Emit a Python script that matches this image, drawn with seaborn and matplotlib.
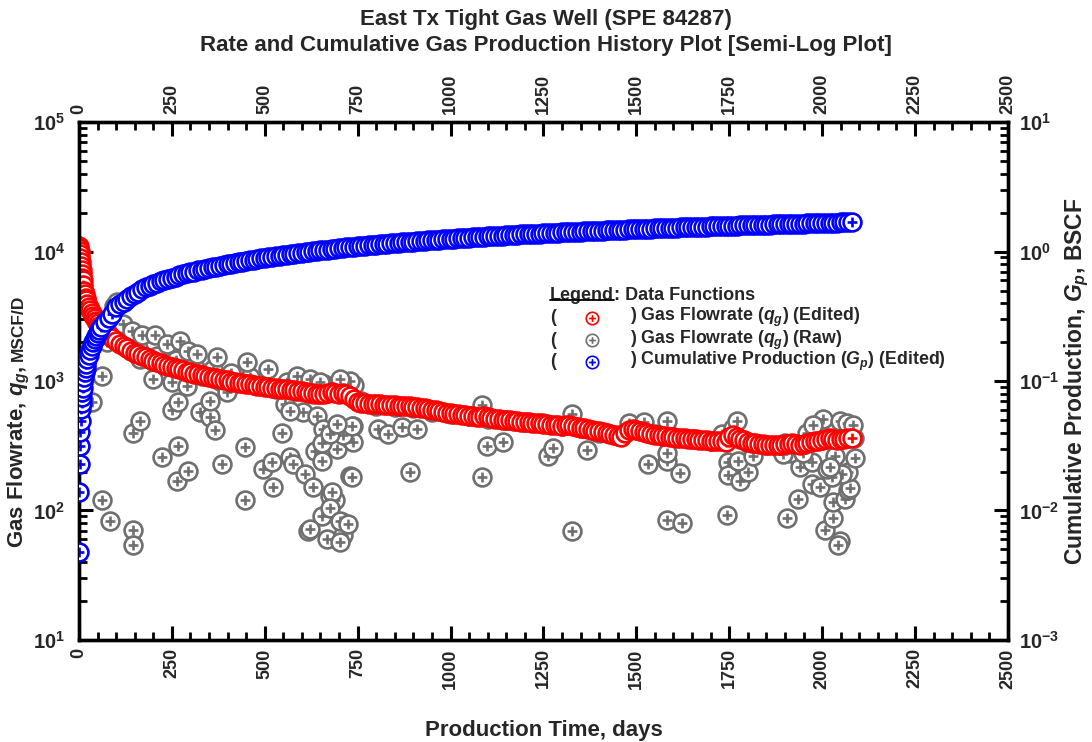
import matplotlib
matplotlib.use("Agg")
import matplotlib.pyplot as plt
from matplotlib.path import Path
from matplotlib.lines import Line2D
from matplotlib.transforms import IdentityTransform
from matplotlib.ticker import FixedLocator, MultipleLocator, NullFormatter, FixedFormatter
import seaborn as sns

# ---------------- data ----------------
# Time stamps (days) shared by the edited rate and the cumulative production
days = [0, 1, 2, 3, 4, 5, 6, 7, 8, 9, 10, 12, 14, 16, 18, 20, 23, 26, 30, 34, 38, 42, 46,
        50, 55, 60, 70, 80, 90, 100, 110, 120, 130, 140, 150, 160, 170, 180, 190, 200,
        210, 220, 230, 240, 250, 260, 270, 280, 290, 300, 310, 320, 330, 340, 350, 360,
        370, 380, 390, 400, 410, 420, 430, 440, 450, 460, 470, 480, 490, 500, 510, 520,
        530, 540, 550, 560, 570, 580, 590, 600, 610, 620, 630, 640, 650, 660, 670, 680,
        690, 700, 710, 720, 730, 740, 750, 760, 770, 780, 790, 800, 810, 820, 830, 840,
        850, 860, 870, 880, 890, 900, 910, 920, 930, 940, 950, 960, 970, 980, 990, 1000,
        1010, 1020, 1030, 1040, 1050, 1060, 1070, 1080, 1090, 1100, 1110, 1120, 1130,
        1140, 1150, 1160, 1170, 1180, 1190, 1200, 1210, 1220, 1230, 1240, 1250, 1260,
        1270, 1280, 1290, 1300, 1310, 1320, 1330, 1340, 1350, 1360, 1370, 1380, 1390,
        1400, 1410, 1420, 1430, 1440, 1450, 1460, 1470, 1480, 1490, 1500, 1510, 1520,
        1530, 1540, 1550, 1560, 1570, 1580, 1590, 1600, 1610, 1620, 1630, 1640, 1650,
        1660, 1670, 1680, 1690, 1700, 1710, 1720, 1730, 1740, 1750, 1760, 1770, 1780,
        1790, 1800, 1810, 1820, 1830, 1840, 1850, 1860, 1870, 1880, 1890, 1900, 1910,
        1920, 1930, 1940, 1950, 1960, 1970, 1980, 1990, 2000, 2010, 2020, 2030, 2040,
        2050, 2060, 2070, 2080]

# Edited gas flowrate, MSCF/D
edited_rate = [11000, 10600, 10100, 9500, 8900, 8300, 7700, 7200, 6700, 6300, 6000, 5500,
               5000, 4700, 4400, 4200, 3950, 3750, 3550, 3350, 3200, 3050, 2900, 2800,
               2680, 2560, 2400, 2250, 2130, 2020, 1930, 1850, 1790, 1720, 1660, 1610,
               1570, 1520, 1490, 1440, 1400, 1380, 1340, 1310, 1290, 1250, 1230, 1210,
               1180, 1170, 1140, 1130, 1110, 1095, 1080, 1060, 1050, 1030, 1020, 1010,
               990, 985, 970, 960, 955, 940, 935, 920, 915, 905, 900, 890, 880, 875, 865,
               860, 850, 845, 835, 830, 820, 815, 805, 800, 795, 800, 815, 820, 810, 800,
               805, 790, 760, 720, 690, 680, 675, 670, 668, 664, 660, 655, 652, 650, 648,
               645, 642, 640, 636, 632, 628, 622, 615, 608, 600, 593, 585, 578, 570, 565,
               560, 555, 550, 546, 540, 536, 532, 528, 540, 525, 515, 510, 506, 503, 500,
               496, 492, 488, 485, 482, 480, 476, 472, 470, 466, 463, 460, 458, 455, 452,
               460, 455, 448, 442, 436, 430, 424, 418, 413, 408, 402, 396, 390, 383, 376,
               370, 400, 420, 426, 420, 412, 405, 398, 392, 386, 382, 378, 375, 372, 369,
               366, 363, 360, 358, 356, 354, 352, 350, 348, 347, 345, 343, 342, 340, 370,
               385, 370, 358, 348, 340, 335, 330, 327, 324, 322, 320, 319, 318, 320, 324,
               328, 330, 326, 322, 326, 332, 338, 342, 345, 350, 356, 362, 358, 352, 355,
               358, 362, 365]

# Cumulative gas production, BSCF
cum_gp = [0.0048, 0.0140, 0.0227, 0.0313, 0.0402, 0.049, 0.0607, 0.068, 0.075, 0.082,
          0.088, 0.098, 0.108, 0.118, 0.127, 0.136, 0.148, 0.160, 0.175, 0.188, 0.200,
          0.212, 0.224, 0.235, 0.249, 0.262, 0.285, 0.307, 0.328, 0.37, 0.39, 0.41, 0.43,
          0.45, 0.47, 0.49, 0.51, 0.53, 0.545, 0.56, 0.575, 0.59, 0.605, 0.615, 0.63,
          0.64, 0.655, 0.665, 0.68, 0.69, 0.70, 0.715, 0.725, 0.735, 0.745, 0.755, 0.765,
          0.775, 0.785, 0.795, 0.805, 0.815, 0.825, 0.835, 0.845, 0.855, 0.865, 0.875,
          0.885, 0.895, 0.903, 0.912, 0.92, 0.93, 0.938, 0.947, 0.955, 0.963, 0.972,
          0.98, 0.988, 0.996, 1.004, 1.012, 1.02, 1.028, 1.036, 1.044, 1.052, 1.06,
          1.068, 1.076, 1.083, 1.09, 1.097, 1.104, 1.11, 1.117, 1.124, 1.13, 1.137,
          1.143, 1.150, 1.156, 1.163, 1.169, 1.176, 1.182, 1.189, 1.195, 1.201, 1.207,
          1.213, 1.219, 1.225, 1.231, 1.237, 1.243, 1.249, 1.255, 1.260, 1.266, 1.271,
          1.277, 1.282, 1.288, 1.293, 1.298, 1.304, 1.309, 1.314, 1.319, 1.324, 1.329,
          1.334, 1.339, 1.344, 1.349, 1.354, 1.359, 1.364, 1.369, 1.373, 1.378, 1.383,
          1.387, 1.392, 1.397, 1.401, 1.406, 1.410, 1.415, 1.419, 1.424, 1.428, 1.432,
          1.437, 1.441, 1.445, 1.449, 1.453, 1.457, 1.461, 1.465, 1.469, 1.473, 1.477,
          1.481, 1.485, 1.489, 1.493, 1.497, 1.501, 1.505, 1.509, 1.513, 1.516, 1.520,
          1.524, 1.528, 1.531, 1.535, 1.539, 1.542, 1.546, 1.549, 1.553, 1.556, 1.560,
          1.563, 1.567, 1.570, 1.574, 1.577, 1.580, 1.584, 1.587, 1.591, 1.594, 1.597,
          1.600, 1.604, 1.607, 1.610, 1.613, 1.616, 1.619, 1.622, 1.625, 1.629, 1.632,
          1.635, 1.638, 1.641, 1.644, 1.647, 1.650, 1.653, 1.657, 1.660, 1.663, 1.667,
          1.670, 1.674, 1.677, 1.681, 1.684, 1.688]

# Raw gas flowrate, MSCF/D
raw_days = [20, 45, 80, 130, 180, 230, 280, 330, 380, 430, 480, 530, 580, 630, 680, 720,
            760, 800, 850, 900, 950, 1000, 1050, 1100, 1150, 1200, 1250, 1300, 1350, 1400,
            1450, 1500, 1550, 1600, 1650, 1700, 1750, 1800, 1850, 1900, 1950, 2000, 2050,
            2085, 110, 160, 210, 260, 310, 360, 410, 460, 560, 610, 660, 700, 740, 1480,
            1520, 1730, 1760, 1960, 1990, 2070,
            95, 102, 118, 143, 170, 205, 237, 272, 293, 318, 371, 452, 509, 587, 622, 62,
            35, 164, 199, 250, 291, 398, 554, 603, 640, 75, 65,
            62, 83, 145, 145, 145, 164, 223, 266, 264, 293, 250, 266, 326, 353, 366, 353,
            385, 447, 447, 495, 519, 522, 546, 568, 576, 608, 630, 616, 654, 675, 689,
            667, 708, 710, 729, 694, 667, 729, 737, 657, 568,
            635, 654, 654, 681, 675, 622, 702, 724, 702, 735, 737, 710, 735, 675, 694,
            805, 832, 869, 910, 891, 1098, 1141, 1084, 1084, 1262, 729, 702, 649,
            1276, 1327, 1367, 1327, 1531, 1582, 1623, 1617, 1582, 1582, 1744, 1746, 1746,
            1779, 1800, 1773, 1814, 1771, 1582,
            1905, 1935, 1940, 1972, 1972, 1994, 2007, 2029, 2029, 2048, 2042, 2061, 2069,
            2075, 2069, 2088, 2053, 2026, 2013, 2002, 2048, 2067, 2083, 1975, 1913, 1894,
            1948, 2034, 2021]
raw_rate = [4200, 3000, 2300, 1800, 1500, 1350, 1200, 1100, 1000, 980, 930, 870, 830, 790,
            830, 820, 700, 640, 630, 620, 580, 560, 540, 510, 500, 480, 470, 450, 430, 400,
            380, 430, 390, 370, 355, 345, 370, 335, 320, 330, 330, 350, 355, 365,
            2250, 1800, 1550, 1450, 1320, 1230, 1150, 1080, 990, 960, 950, 960, 930, 470,
            480, 390, 430, 400, 420, 420,
            3800, 4100, 2770, 2440, 2250, 2250, 1940, 2040, 1710, 1620, 1540, 1410, 1240,
            1090, 1040, 1090, 690, 1480, 1040, 980, 910, 820, 663, 575, 535, 2000, 2390,
            120, 83, 71, 54, 400, 493, 257, 315, 168, 202, 600, 687, 575, 530, 415, 700,
            227, 310, 120, 208, 235, 152, 400, 257, 227, 190, 152, 70, 90, 130, 120,
            60, 81, 65, 185, 297, 380, 355, 450, 424, 590,
            287, 243, 335, 138, 105, 72, 83, 78, 57, 180, 340, 380, 450, 388, 464,
            424, 388, 440, 424, 200, 315, 340, 182, 650, 262, 1000, 1040, 980,
            305, 69, 292, 555, 227, 85, 80, 194, 240, 280, 92, 235, 187,
            170, 198, 240, 262, 490, 490,
            88, 122, 215, 235, 161, 152, 71, 88, 116, 58, 54, 122, 145,
            150, 200, 255, 190, 183, 208, 507, 492, 478, 460, 455, 280, 271,
            280, 262, 217]

x_ticks = [0, 250, 500, 750, 1000, 1250, 1500, 1750, 2000, 2250, 2500]
rate_decades = [1, 2, 3, 4, 5]
cum_decades = [-3, -2, -1, 0, 1]

title_lines = ["East Tx Tight Gas Well (SPE 84287)",
               "Rate and Cumulative Gas Production History Plot [Semi-Log Plot]"]
legend_labels = [r") Gas Flowrate ($\mathit{q}_{\mathit{g}}$) (Edited)",
                 r") Gas Flowrate ($\mathit{q}_{\mathit{g}}$) (Raw)",
                 r") Cumulative Production ($\mathit{G}_{\mathit{p}}$) (Edited)"]

# ---------------- style ----------------
sns.set_theme(style="white")
plt.rcParams.update({
    "font.family": ["Liberation Sans", "DejaVu Sans"],
    "font.weight": "bold",
    "axes.labelweight": "bold",
    "mathtext.fontset": "custom",
    "mathtext.rm": "Liberation Sans:bold",
    "mathtext.bf": "Liberation Sans:bold",
    "mathtext.it": "Liberation Sans:bold:italic",
    "mathtext.default": "rm",
})

RED = "#ff0000"
GRAY = "#6f6f6f"
BLUE = "#0000ff"

# circle with a plus sign inside
_circle = Path.unit_circle()
_arm = 0.55
_plus = Path([(-_arm, 0), (_arm, 0), (0, -_arm), (0, _arm)],
             [Path.MOVETO, Path.LINETO, Path.MOVETO, Path.LINETO])
OPLUS = Path.make_compound_path(_circle, _plus)

fig = plt.figure(figsize=(10.92, 7.42), dpi=100)
ax = fig.add_axes([0.0723, 0.1375, 0.8507, 0.698])
ax2 = ax.twinx()

mk = dict(marker=OPLUS, s=165, color="white", linewidth=1.9, legend=False)
sns.scatterplot(x=raw_days, y=raw_rate, ax=ax, edgecolor=GRAY, zorder=2, **mk)
sns.scatterplot(x=days, y=edited_rate, ax=ax, edgecolor=RED, zorder=3, **mk)
sns.scatterplot(x=days, y=cum_gp, ax=ax2, edgecolor=BLUE, zorder=3, **mk)

# ---------------- axes ----------------
ax.set_xlim(0, 2500)
ax.set_yscale("log")
ax.set_ylim(1e1, 1e5)
ax2.set_yscale("log")
ax2.set_ylim(1e-3, 1e1)

ax.xaxis.set_major_locator(FixedLocator(x_ticks))
ax.xaxis.set_minor_locator(MultipleLocator(50))
ax.set_xticklabels([str(v) for v in x_ticks])

minor_fracs = [2, 3, 4, 5, 6, 7, 8, 9]
ax.yaxis.set_major_locator(FixedLocator([10.0 ** e for e in rate_decades]))
ax.yaxis.set_major_formatter(FixedFormatter([f"10$^{{{e}}}$" for e in rate_decades]))
ax.yaxis.set_minor_locator(FixedLocator([m * 10.0 ** e for e in rate_decades[:-1] for m in minor_fracs]))
ax.yaxis.set_minor_formatter(NullFormatter())
ax2.yaxis.set_major_locator(FixedLocator([10.0 ** e for e in cum_decades]))
ax2.yaxis.set_major_formatter(FixedFormatter([f"10$^{{{e}}}$" for e in cum_decades]))
ax2.yaxis.set_minor_locator(FixedLocator([m * 10.0 ** e for e in cum_decades[:-1] for m in minor_fracs]))
ax2.yaxis.set_minor_formatter(NullFormatter())

ax.tick_params(axis="x", which="both", direction="in", top=True, bottom=True,
               labeltop=True, labelbottom=True, labelrotation=90, labelsize=13, pad=6)
ax.tick_params(axis="y", which="both", direction="in", left=True, right=False,
               labelsize=14.5, pad=10)
ax2.tick_params(axis="y", which="both", direction="in", right=True, left=False,
                labelsize=14.5, pad=8)
for a in (ax, ax2):
    a.tick_params(which="major", length=10, width=2.2, color="black")
    a.tick_params(which="minor", length=5.5, width=2.0, color="black")
    for sp in a.spines.values():
        sp.set_linewidth(2.4)
        sp.set_color("black")
    a.grid(False)

ax.set_xlabel("Production Time, days", fontsize=16)
ax.xaxis.set_label_coords(0.5, -0.155)

# left axis title: main part plus a smaller unit part on the same baseline
base_x = 23 / 1092
ylab = fig.text(base_x, 1 - 548 / 742, r"Gas Flowrate, $\mathit{q}_{\mathit{g}}$,",
                rotation=90, rotation_mode="anchor", ha="left", va="baseline",
                fontsize=16, fontweight="bold")
fig.canvas.draw()
ybb = ylab.get_window_extent().transformed(fig.transFigure.inverted())
fig.text(base_x, ybb.y1 + 5 / 742, "MSCF/D", rotation=90, rotation_mode="anchor",
         ha="left", va="baseline", fontsize=12.5, fontweight="bold")
fig.text(0.986, 0.1375 + 0.698 / 2, r"Cumulative Production, $\mathit{G}_{\mathit{p}}$, BSCF",
         rotation=90, ha="center", va="center", fontsize=16.5, fontweight="bold")

fig.text(0.5, 1 - 19 / 742, title_lines[0], ha="center", va="center", fontsize=16,
         fontweight="bold")
fig.text(0.5, 1 - 46 / 742, title_lines[1], ha="center", va="center", fontsize=16,
         fontweight="bold")

# ---------------- legend block ----------------
lx_paren, lx_mark, lx_text = 0.507, 0.552, 0.593
ly_head = 0.666
ly_rows = [0.622, 0.579, 0.537]
leg_colors = [RED, GRAY, BLUE]
head = ax2.text(lx_paren, ly_head, "Legend", transform=ax2.transAxes, fontsize=13,
                fontweight="bold", ha="left", va="center")
ax2.annotate(": Data Functions", xy=(1, 0.5), xycoords=head, ha="left", va="center",
             fontsize=13, fontweight="bold")
for yy, lab, col in zip(ly_rows, legend_labels, leg_colors):
    ax2.text(lx_paren, yy, "(", transform=ax2.transAxes, fontsize=12.8, ha="left",
             va="center", fontweight="bold")
    ax2.scatter([lx_mark], [yy], transform=ax2.transAxes, marker=OPLUS, s=80,
                facecolor="white", edgecolor=col, linewidth=1.2, zorder=5)
    ax2.text(lx_text, yy, lab, transform=ax2.transAxes, fontsize=12.8, ha="left",
             va="center", fontweight="bold")

fig.canvas.draw()
bb = head.get_window_extent()
uy = bb.y0 + 0.18 * bb.height
fig.add_artist(Line2D([bb.x0, bb.x1], [uy, uy], transform=IdentityTransform(),
                      color="black", linewidth=1.3))

fig.savefig("out.png", dpi=100)
